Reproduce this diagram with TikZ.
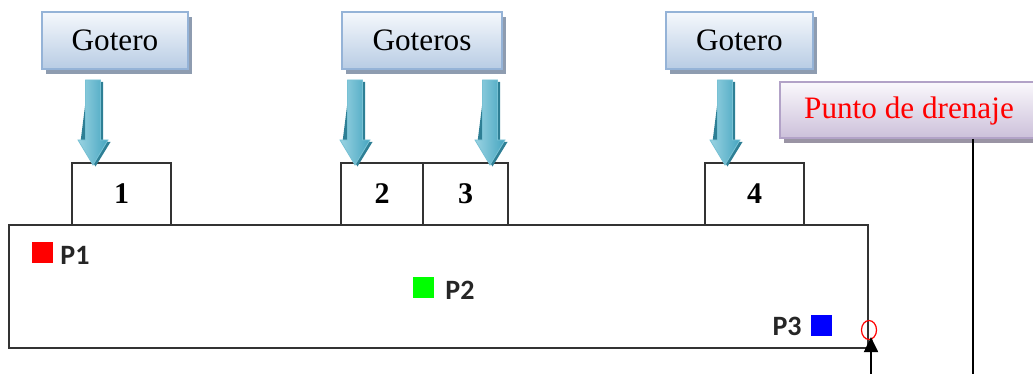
\documentclass[tikz,border=0pt]{standalone}
\usepackage{fontspec}
\setmainfont{Liberation Serif}
\newfontfamily\calibri{Carlito}
\usetikzlibrary{shadows,arrows.meta,shapes.geometric}
\definecolor{boxtop}{HTML}{F5F8FC}
\definecolor{boxbot}{HTML}{B8CCE4}
\definecolor{boxedge}{HTML}{95B3D7}
\definecolor{boxshadow}{HTML}{8E9CB0}
\definecolor{lavtop}{HTML}{FAF8FC}
\definecolor{lavbot}{HTML}{CCC0DA}
\definecolor{lavedge}{HTML}{B2A2C7}
\definecolor{lavshadow}{HTML}{9A94A4}
\definecolor{arrL}{HTML}{9AD3E2}
\definecolor{arrR}{HTML}{45A5C0}
\definecolor{arrD}{HTML}{2E7F95}
\newcommand\dropdown[1]{%
  \fill[arrD] (#1-7.5+2.5,80+2) -- (#1+7.5+2.5,80+2) -- (#1+7.5+2.5,140+2) -- (#1+15+2.5,140+2) -- (#1+2.5,165+1.5) -- (#1-15+2.5,140+2) -- cycle;
  \path[left color=arrL, right color=arrR, draw=arrL!60!arrR, line width=0.4pt]
    (#1-7.5,80) -- (#1+7.5,80) -- (#1+7.5,140) -- (#1+15,140) -- (#1,165) -- (#1-15,140) -- (#1-7.5,140) -- cycle;}
\begin{document}
\begin{tikzpicture}[x=0.5pt,y=-0.5pt,
  labelbox/.style={draw=boxedge, line width=1pt, top color=boxtop, bottom color=boxbot,
    drop shadow={shadow xshift=2pt, shadow yshift=-2.5pt, fill=boxshadow, opacity=1},
    minimum height=28.5pt, inner sep=0pt, font=\fontsize{15.6}{18}\selectfont},
  lavbox/.style={labelbox, draw=lavedge, top color=lavtop, bottom color=lavbot,
    drop shadow={shadow xshift=2pt, shadow yshift=-2.5pt, fill=lavshadow, opacity=1}},
  cell/.style={draw=black!80, line width=1pt, inner sep=0pt, minimum height=31pt,
    font=\bfseries\fontsize{15}{18}\selectfont},
  marker/.style={minimum size=10.5pt, inner sep=0pt},
  plabel/.style={font=\calibri\bfseries\fontsize{14}{16}\selectfont, inner sep=0pt, text=black!85}
]
\useasboundingbox (0,0) rectangle (1033,374);
\clip (0,0) rectangle (1033,374);

% labels
\node[labelbox, minimum width=73pt] (g1) at (115,40.5) {Gotero};
\node[labelbox, minimum width=80pt] (g2) at (422,40.5) {Goteros};
\node[labelbox, minimum width=73.5pt] (g3) at (739.5,40.5) {Gotero};
\node[lavbox, minimum width=193pt, minimum height=28pt] (punto) at (973,110) {};
\node[text=red, font=\fontsize{15.6}{18}\selectfont, inner sep=0pt] (puntotxt) at (909,111) {Punto de drenaje};

% main body
\node[draw=black!80, line width=1pt, minimum width=429.5pt, minimum height=61.5pt, inner sep=0pt] (body) at (438.5,286.5) {};
\node[cell, minimum width=49.5pt] (c1) at (121.5,194) {1};
\node[cell, minimum width=41pt] (c2) at (382,194) {2};
\node[cell, minimum width=42.5pt] (c3) at (465.5,194) {3};
\node[cell, minimum width=49.5pt] (c4) at (754.5,194) {4};

% drip arrows
\dropdown{93}
\dropdown{355}
\dropdown{490}
\dropdown{725}

% sample points
\node[marker, fill=red] (m1) at (42.5,252) {};
\node[plabel, anchor=west] (p1) at (60,255) {P1};
\node[marker, fill=green] (m2) at (423.5,287) {};
\node[plabel, anchor=west] (p2) at (445,290) {P2};
\node[marker, fill=blue] (m3) at (821.5,325) {};
\node[plabel, anchor=east] (p3) at (802,326) {P3};

% drain
\node[draw=red, ellipse, line width=0.6pt, minimum width=7.5pt, minimum height=9.5pt, inner sep=0pt] (drain) at (869,330) {};
\coordinate (k1) at (973,400);
\coordinate (k2) at (871,400);
\draw[line width=1pt, -{Triangle[width=7pt,length=7.5pt]}] (punto.south -| k1) -- (k1) -- (k2) -- ([yshift=1.5pt]k2 |- drain.south);
\end{tikzpicture}
\end{document}
